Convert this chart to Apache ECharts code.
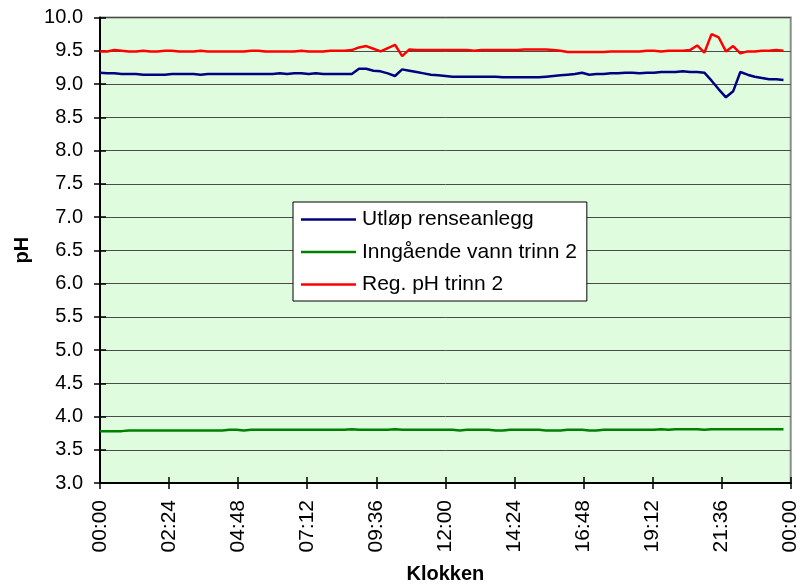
<!DOCTYPE html>
<html>
<head>
<meta charset="utf-8">
<script src="https://cdn.jsdelivr.net/npm/echarts@6/dist/echarts.min.js"></script>
<style>
  html, body { margin: 0; padding: 0; background: #fff; }
  #chart { width: 797px; height: 585px; }
</style>
</head>
<body>
<div id="chart"></div>
<script>
// pH readings every 15 minutes over one day
const stepMinutes = 15;
const seriesNames = ['Utløp renseanlegg', 'Inngående vann trinn 2', 'Reg. pH trinn 2'];

const utlop = [
  9.17, 9.16, 9.16, 9.15, 9.15, 9.15, 9.14, 9.14, 9.14, 9.14, 9.15,
  9.15, 9.15, 9.15, 9.14, 9.15, 9.15, 9.15, 9.15, 9.15, 9.15, 9.15, 9.15,
  9.15, 9.15, 9.16, 9.15, 9.16, 9.16, 9.15, 9.16, 9.15, 9.15, 9.15, 9.15,
  9.15, 9.23, 9.23, 9.20, 9.19, 9.16, 9.12, 9.22, 9.20, 9.18, 9.16, 9.14, 9.13, 9.12,
  9.11, 9.11, 9.11, 9.11, 9.11, 9.11, 9.11, 9.10, 9.10, 9.10, 9.10, 9.10, 9.10,
  9.11, 9.12, 9.13, 9.14, 9.15, 9.17, 9.14, 9.15, 9.15, 9.16, 9.16, 9.17,
  9.17, 9.16, 9.17, 9.17, 9.18, 9.18, 9.18, 9.19, 9.18, 9.18, 9.17, 9.05,
  8.92, 8.80, 8.89, 9.18, 9.14, 9.11, 9.09, 9.07, 9.07, 9.06
];

const inngaende = [
  3.78, 3.78, 3.78, 3.78, 3.79, 3.79, 3.79, 3.79,
  3.79, 3.79, 3.79, 3.79, 3.79, 3.79, 3.79, 3.79,
  3.79, 3.79, 3.80, 3.80, 3.79, 3.80, 3.80, 3.80,
  3.80, 3.80, 3.80, 3.80, 3.80, 3.80, 3.80, 3.80,
  3.80, 3.80, 3.80, 3.81, 3.80, 3.80, 3.80, 3.80,
  3.80, 3.81, 3.80, 3.80, 3.80, 3.80, 3.80, 3.80,
  3.80, 3.80, 3.79, 3.80, 3.80, 3.80, 3.80, 3.79,
  3.79, 3.80, 3.80, 3.80, 3.80, 3.80, 3.79, 3.79,
  3.79, 3.80, 3.80, 3.80, 3.79, 3.79, 3.80, 3.80,
  3.80, 3.80, 3.80, 3.80, 3.80, 3.80, 3.81, 3.80,
  3.81, 3.81, 3.81, 3.81, 3.80, 3.81, 3.81, 3.81,
  3.81, 3.81, 3.81, 3.81, 3.81, 3.81, 3.81, 3.81
];

const regPh = [
  9.49, 9.49, 9.51, 9.50, 9.49, 9.49, 9.50, 9.49, 9.49, 9.50, 9.50, 9.49,
  9.49, 9.49, 9.50, 9.49, 9.49, 9.49, 9.49, 9.49, 9.49, 9.50, 9.50, 9.49,
  9.49, 9.49, 9.49, 9.49, 9.50, 9.49, 9.49, 9.49, 9.50, 9.50,
  9.50, 9.51, 9.55, 9.57, 9.53, 9.49, 9.54, 9.59, 9.42, 9.52, 9.51,
  9.51, 9.51, 9.51, 9.51, 9.51, 9.51, 9.51, 9.50, 9.51, 9.51,
  9.51, 9.51, 9.51, 9.51, 9.52, 9.52, 9.52, 9.52, 9.51, 9.50,
  9.48, 9.48, 9.48, 9.48, 9.48, 9.48, 9.49, 9.49, 9.49,
  9.49, 9.49, 9.50, 9.50, 9.49, 9.50, 9.50, 9.50, 9.51,
  9.58, 9.47, 9.75, 9.70, 9.49, 9.57, 9.46, 9.49, 9.49, 9.50, 9.50, 9.51, 9.50
];

// x axis runs 00:00 -> 00:00 (next day), labelled every 2 h 24 min
const xMin = 0, xMax = 1440, xInterval = 144;
const yMin = 3.0, yMax = 10.0, yInterval = 0.5;

function pairs(values) {
  return values.map((v, i) => [i * stepMinutes, v]);
}
function clock(m) {
  const t = Math.round(m) % 1440;
  const h = Math.floor(t / 60), mm = t % 60;
  return String(h).padStart(2, '0') + ':' + String(mm).padStart(2, '0');
}

const FONT = '"Liberation Sans", Arial, sans-serif';
const chart = echarts.init(document.getElementById('chart'), null, { renderer: 'canvas' });

const baseX = { type: 'value', min: xMin, max: xMax, interval: xInterval, gridIndex: 0 };
const baseY = { type: 'value', min: yMin, max: yMax, interval: yInterval, gridIndex: 0 };

chart.setOption({
  animation: false,
  backgroundColor: '#ffffff',
  grid: {
    left: 100, right: 6.3, top: 17.5, bottom: 102,
    outerBoundsMode: 'none',
    containLabel: false,
    show: true,
    backgroundColor: '#dffcdf',
    borderColor: '#8c8c8c',
    borderWidth: 2
  },
  legend: {
    orient: 'vertical',
    left: 293, top: 202,
    padding: [7, 10, 6, 8],
    itemGap: 11.5,
    itemWidth: 55,
    itemHeight: 2.5,
    icon: 'rect',
    backgroundColor: '#ffffff',
    borderColor: '#000000',
    borderWidth: 1,
    borderRadius: 0,
    textStyle: { fontFamily: FONT, fontSize: 21, color: '#000', padding: [0, 0, 0, 1] },
    data: seriesNames
  },
  xAxis: [
    Object.assign({}, baseX, {
      position: 'bottom',
      name: 'Klokken',
      nameLocation: 'middle',
      nameGap: 91,
      nameMoveOverlap: false,
      nameTextStyle: { fontFamily: FONT, fontSize: 20, fontWeight: 'bold', color: '#000', verticalAlign: 'middle' },
      axisLine: { show: true, onZero: false, lineStyle: { color: '#000', width: 2 } },
      axisTick: { show: true, inside: false, length: 6, lineStyle: { color: '#000', width: 1.5 } },
      axisLabel: {
        rotate: 90, margin: 17,
        fontFamily: FONT, fontSize: 21, color: '#000',
        showMinLabel: true, showMaxLabel: true,
        formatter: v => clock(v)
      },
      splitLine: { show: false }
    }),
    Object.assign({}, baseX, {
      position: 'bottom',
      axisLine: { show: false },
      axisTick: { show: true, inside: true, length: 6, lineStyle: { color: '#000', width: 1.5 } },
      axisLabel: { show: false },
      splitLine: { show: false }
    })
  ],
  yAxis: [
    Object.assign({}, baseY, {
      position: 'left',
      name: 'pH',
      nameLocation: 'middle',
      nameGap: 78,
      nameMoveOverlap: false,
      nameRotate: 90,
      nameTextStyle: { fontFamily: FONT, fontSize: 20, fontWeight: 'bold', color: '#000', verticalAlign: 'middle' },
      axisLine: { show: true, onZero: false, lineStyle: { color: '#000', width: 2 } },
      axisTick: { show: true, inside: false, length: 6, lineStyle: { color: '#000', width: 1.5 } },
      axisLabel: {
        margin: 17,
        fontFamily: FONT, fontSize: 20, color: '#000',
        formatter: v => v.toFixed(1)
      },
      splitLine: { show: true, lineStyle: { color: '#4a4a4a', width: 1 } }
    }),
    Object.assign({}, baseY, {
      position: 'left',
      axisLine: { show: false },
      axisTick: { show: true, inside: true, length: 6, lineStyle: { color: '#000', width: 1.5 } },
      axisLabel: { show: false },
      splitLine: { show: false }
    })
  ],
  series: [
    {
      name: seriesNames[0], type: 'line', xAxisIndex: 0, yAxisIndex: 0,
      symbol: 'none', data: pairs(utlop),
      lineStyle: { color: '#000080', width: 2.5 }, itemStyle: { color: '#000080' }
    },
    {
      name: seriesNames[1], type: 'line', xAxisIndex: 0, yAxisIndex: 0,
      symbol: 'none', data: pairs(inngaende),
      lineStyle: { color: '#008000', width: 2.5 }, itemStyle: { color: '#008000' }
    },
    {
      name: seriesNames[2], type: 'line', xAxisIndex: 0, yAxisIndex: 0,
      symbol: 'none', data: pairs(regPh),
      lineStyle: { color: '#ff0000', width: 2.5 }, itemStyle: { color: '#ff0000' }
    }
  ]
});
</script>
</body>
</html>
